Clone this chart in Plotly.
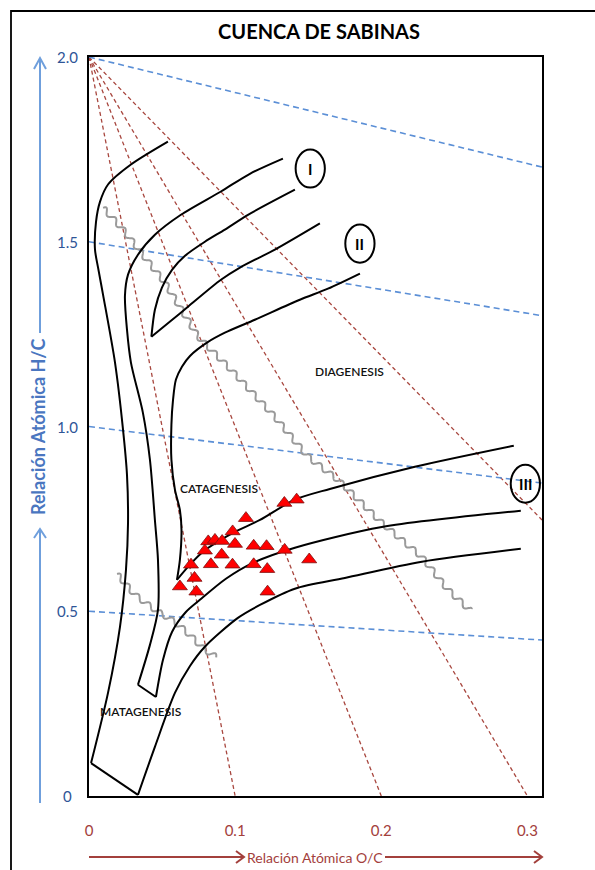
import numpy as np
import plotly.graph_objects as go

# ---------------- data (O/C, H/C atomic ratios) ----------------
sample_oc = [0.1421, 0.1337, 0.1074, 0.0983, 0.0816, 0.0862, 0.0911, 0.0793,
             0.0999, 0.1127, 0.1215, 0.1339, 0.0908, 0.0834, 0.0982, 0.1127,
             0.1220, 0.1507, 0.0698, 0.0722, 0.0622, 0.0735, 0.1222]
sample_hc = [0.802, 0.793, 0.752, 0.716, 0.689, 0.693, 0.690, 0.664,
             0.682, 0.677, 0.676, 0.666, 0.653, 0.627, 0.626, 0.627,
             0.614, 0.640, 0.626, 0.590, 0.567, 0.553, 0.553]

# outer envelope: left branch, base segment, lower (type III) branch
outer_left_oc = [0.0540, 0.0287, 0.0130, 0.0075, 0.0048, 0.0041, 0.0062, 0.0096,
                 0.0178, 0.0233, 0.0260, 0.0267, 0.0253, 0.0212, 0.0130, 0.0014]
outer_left_hc = [1.771, 1.709, 1.655, 1.608, 1.554, 1.479, 1.430, 1.357,
                 1.173, 0.991, 0.869, 0.739, 0.612, 0.458, 0.279, 0.089]
outer_base_oc = [0.0014, 0.0335]
outer_base_hc = [0.089, 0.003]
outer_low_oc = [0.0335, 0.0451, 0.0588, 0.0691, 0.0793, 0.1019, 0.1170, 0.1409,
                0.1751, 0.2278, 0.2955]
outer_low_hc = [0.003, 0.133, 0.279, 0.352, 0.404, 0.482, 0.517, 0.561,
                0.590, 0.634, 0.669]

# inner envelope: left branch, base segment, middle (type III) branch
inner_left_oc = [0.1327, 0.1101, 0.0903, 0.0629, 0.0451, 0.0335, 0.0267, 0.0246,
                 0.0260, 0.0287, 0.0369, 0.0417, 0.0451, 0.0472, 0.0472, 0.0417, 0.0335]
inner_left_hc = [1.725, 1.684, 1.636, 1.573, 1.519, 1.465, 1.411, 1.354,
                 1.262, 1.173, 1.037, 0.910, 0.747, 0.639, 0.504, 0.409, 0.301]
inner_base_oc = [0.0335, 0.0458]
inner_base_hc = [0.301, 0.268]
inner_low_oc = [0.0458, 0.0506, 0.0568, 0.0663, 0.0759, 0.0937, 0.1122, 0.1409,
                0.2004, 0.2955]
inner_low_hc = [0.268, 0.368, 0.444, 0.498, 0.531, 0.588, 0.631, 0.672,
                0.728, 0.772]

# type II band (two branches meeting in a cusp)
t2_upper_oc = [0.1409, 0.1088, 0.0930, 0.0793, 0.0657, 0.0568, 0.0499, 0.0451, 0.0427]
t2_upper_hc = [1.641, 1.573, 1.533, 1.500, 1.462, 1.424, 1.376, 1.316, 1.243]
t2_lower_oc = [0.1580, 0.1272, 0.1033, 0.0903, 0.0677, 0.0561, 0.0427]
t2_lower_hc = [1.550, 1.479, 1.430, 1.397, 1.324, 1.286, 1.243]

# type III band upper curve (left branch + right branch meeting in a cusp)
t3_left_oc = [0.1854, 0.1635, 0.1443, 0.1135, 0.0930, 0.0807, 0.0691, 0.0636,
              0.0595, 0.0575, 0.0564, 0.0564, 0.0588, 0.0622, 0.0633, 0.0622, 0.0602]
t3_left_hc = [1.414, 1.373, 1.343, 1.289, 1.254, 1.227, 1.191, 1.162,
              1.127, 1.072, 1.005, 0.910, 0.829, 0.774, 0.720, 0.639, 0.585]
t3_right_oc = [0.0602, 0.0691, 0.0780, 0.0985, 0.1170, 0.1409, 0.1648, 0.2230, 0.2907]
t3_right_hc = [0.585, 0.626, 0.661, 0.712, 0.747, 0.802, 0.831, 0.891, 0.948]

# maturity zone boundaries
diag_cat_oc = [0.0089, 0.0233, 0.0383, 0.0520, 0.0746, 0.0971, 0.1272, 0.1498,
               0.1703, 0.2004, 0.2278, 0.2456, 0.2620]
diag_cat_hc = [1.595, 1.533, 1.457, 1.389, 1.243, 1.154, 1.026, 0.918,
               0.856, 0.739, 0.647, 0.558, 0.498]
cat_meta_oc = [0.0185, 0.0315, 0.0451, 0.0588, 0.0677, 0.0793, 0.0882]
cat_meta_hc = [0.604, 0.544, 0.504, 0.471, 0.441, 0.395, 0.374]

# fan of red reference lines starting at (0, 2.0)
fan_origin = (0.0, 2.0)
fan_end_oc = [0.10, 0.20, 0.30, 0.31]
fan_end_hc = [0.0, 0.0, 0.0, 0.747]

# blue reference lines from the H/C axis to the right border
iso_start_hc = [2.0, 1.5, 1.0, 0.5]
iso_end_hc = [1.702, 1.30, 0.847, 0.422]

# kerogen type labels (ellipse centre)
type_labels = ["I", "II", "III"]
type_oc = [0.1514, 0.1854, 0.2986]
type_hc = [1.698, 1.495, 0.845]

zone_labels = ["DIAGENESIS", "CATAGENESIS", "MATAGENESIS"]
zone_oc = [0.1785, 0.0893, 0.0356]
zone_hc = [1.148, 0.831, 0.228]

x_ticks = [0, 0.1, 0.2, 0.3]
x_tick_text = ["0", "0.1", "0.2", "0.3"]
y_ticks = [2.0, 1.5, 1.0, 0.5, 0.0]
y_tick_text = ["2.0", "1.5", "1.0", "0.5", "0"]

X_MAX, Y_MAX = 0.31, 2.0

# ---------------- layout geometry ----------------
W, H = 595, 870
L, R, T, B = 89, 542, 57, 796


def P(px, py):
    """pixel position on the page -> paper coordinates"""
    return (px - L) / (R - L), (B - py) / (B - T)


def wavy(xs, ys, wavelength=14.0, amp=2.6):
    """wavy line style along a path (drawn in screen space)"""
    sx = (R - L) / X_MAX
    sy = (B - T) / Y_MAX
    X = np.asarray(xs) * sx
    Y = np.asarray(ys) * sy
    s = np.concatenate([[0], np.cumsum(np.hypot(np.diff(X), np.diff(Y)))])
    t = np.arange(0, s[-1], 0.5)
    xi = np.interp(t, s, X)
    yi = np.interp(t, s, Y)
    # smooth the guide path so the normals vary gently
    k = 25
    ker = np.ones(k) / k
    xs_ = np.convolve(np.pad(xi, k // 2, mode="edge"), ker, mode="valid")
    ys_ = np.convolve(np.pad(yi, k // 2, mode="edge"), ker, mode="valid")
    dx, dy = np.gradient(xs_), np.gradient(ys_)
    n = np.hypot(dx, dy)
    off = amp * np.sin(2 * np.pi * t / wavelength)
    return (xs_ - dy / n * off) / sx, (ys_ + dx / n * off) / sy


RED_DASH = "#a8473f"
BLUE_DASH = "#5b8fd6"
FONT = "Lato"

fig = go.Figure()

# reference lines
for ex, ey in zip(fan_end_oc, fan_end_hc):
    fig.add_trace(go.Scatter(x=[fan_origin[0], ex], y=[fan_origin[1], ey], mode="lines",
                             line=dict(color=RED_DASH, width=1.3, dash="4px,3px"),
                             hoverinfo="skip"))
for h0, h1 in zip(iso_start_hc, iso_end_hc):
    fig.add_trace(go.Scatter(x=[0, X_MAX], y=[h0, h1], mode="lines",
                             line=dict(color=BLUE_DASH, width=1.6, dash="6px,4px"),
                             hoverinfo="skip"))

# maturity boundaries (wavy grey)
for xs, ys in [(diag_cat_oc, diag_cat_hc), (cat_meta_oc, cat_meta_hc)]:
    wx, wy = wavy(xs, ys)
    fig.add_trace(go.Scatter(x=wx, y=wy, mode="lines",
                             line=dict(color="#9a9a9a", width=2, simplify=False),
                             hoverinfo="skip"))

# evolution curves
smooth = [(outer_left_oc, outer_left_hc), (outer_low_oc, outer_low_hc),
          (inner_left_oc, inner_left_hc), (inner_low_oc, inner_low_hc),
          (t2_upper_oc, t2_upper_hc), (t2_lower_oc, t2_lower_hc),
          (t3_left_oc, t3_left_hc), (t3_right_oc, t3_right_hc)]
for xs, ys in smooth:
    fig.add_trace(go.Scatter(x=xs, y=ys, mode="lines",
                             line=dict(color="black", width=2, shape="spline", smoothing=0.8),
                             hoverinfo="skip"))
for xs, ys in [(outer_base_oc, outer_base_hc), (inner_base_oc, inner_base_hc)]:
    fig.add_trace(go.Scatter(x=xs, y=ys, mode="lines",
                             line=dict(color="black", width=2), hoverinfo="skip"))

# samples
fig.add_trace(go.Scatter(x=sample_oc, y=sample_hc, mode="markers",
                         marker=dict(symbol="triangle-up", size=13, color="#ff0000",
                                     line=dict(color="#7a1010", width=0.8))))

shapes = []
# kerogen type ellipses
half_w, half_h = 0.0100, 0.0515
for cx, cy in zip(type_oc, type_hc):
    shapes.append(dict(type="circle", xref="x", yref="y",
                       x0=cx - half_w, x1=cx + half_w, y0=cy - half_h, y1=cy + half_h,
                       line=dict(color="black", width=2)))

# outer frame (left and top edges)
fx0, fy0 = P(11, 875)
fx1, fy1 = P(11, 11)
fx2, fy2 = P(600, 11)
shapes.append(dict(type="path", xref="paper", yref="paper",
                   path=f"M{fx0},{fy0} L{fx1},{fy1} L{fx2},{fy2}",
                   line=dict(color="black", width=1.8)))


def seg(pts, color, width=2):
    coords = [P(*p) for p in pts]
    path = "M" + " L".join(f"{a},{b}" for a, b in coords)
    return dict(type="path", xref="paper", yref="paper", path=path,
                line=dict(color=color, width=width))


Y_ARROW = "#6f9fdc"
X_ARROW = "#a3403c"
shapes += [
    seg([(40, 803), (40, 529)], Y_ARROW),
    seg([(34, 538), (40, 529), (46, 538)], Y_ARROW),
    seg([(40, 333), (40, 58)], Y_ARROW),
    seg([(34, 69), (40, 58), (46, 69)], Y_ARROW),
    seg([(89, 857), (244, 857)], X_ARROW),
    seg([(236, 851), (244, 857), (236, 863)], X_ARROW),
    seg([(385, 857), (542, 857)], X_ARROW),
    seg([(534, 851), (542, 857), (534, 863)], X_ARROW),
]

annotations = []
for lab, cx, cy in zip(type_labels, type_oc, type_hc):
    annotations.append(dict(x=cx, y=cy, xref="x", yref="y", text=lab, showarrow=False,
                            font=dict(family=FONT, size=15, color="black", weight="bold")))
for lab, cx, cy in zip(zone_labels, zone_oc, zone_hc):
    annotations.append(dict(x=cx, y=cy, xref="x", yref="y", text=lab, showarrow=False,
                            font=dict(family=FONT, size=12, color="#111111", weight=600)))
ytx, _ = P(67, 0)
for v, lab in zip(y_ticks, y_tick_text):
    annotations.append(dict(x=ytx, y=v, xref="paper", yref="y", text=lab, showarrow=False,
                            xanchor="center", yanchor="middle",
                            font=dict(family=FONT, size=15, color="#2f5597")))
lx, ly = P(38, 427)
annotations.append(dict(x=lx, y=ly, xref="paper", yref="paper", text="Relación Atómica H/C",
                        textangle=-90, showarrow=False, xanchor="center", yanchor="middle",
                        font=dict(family=FONT, size=18, color="#4a76c0", weight="bold")))
bx, by = P(315, 857)
annotations.append(dict(x=bx, y=by, xref="paper", yref="paper", text="Relación Atómica O/C",
                        showarrow=False, xanchor="center", yanchor="middle",
                        font=dict(family=FONT, size=14, color=X_ARROW)))

fig.update_layout(
    width=W, height=H,
    margin=dict(l=L, r=W - R, t=T, b=H - B, pad=0),
    paper_bgcolor="white", plot_bgcolor="white",
    showlegend=False,
    title=dict(text="CUENCA DE SABINAS", x=319 / W, xanchor="center",
               y=1 - 32 / H, yanchor="middle",
               font=dict(family=FONT, size=20, color="black", weight="bold")),
    shapes=shapes, annotations=annotations,
)
fig.update_xaxes(range=[0, X_MAX], tickvals=x_ticks, ticktext=x_tick_text,
                 showgrid=False, zeroline=False, ticks="", ticklabelstandoff=20,
                 tickfont=dict(family=FONT, size=15, color=X_ARROW),
                 showline=True, linecolor="black", linewidth=2, mirror=True)
fig.update_yaxes(range=[0, Y_MAX], showticklabels=False, showgrid=False, zeroline=False,
                 ticks="", showline=True, linecolor="black", linewidth=2, mirror=True)

fig.write_html("out.html")
